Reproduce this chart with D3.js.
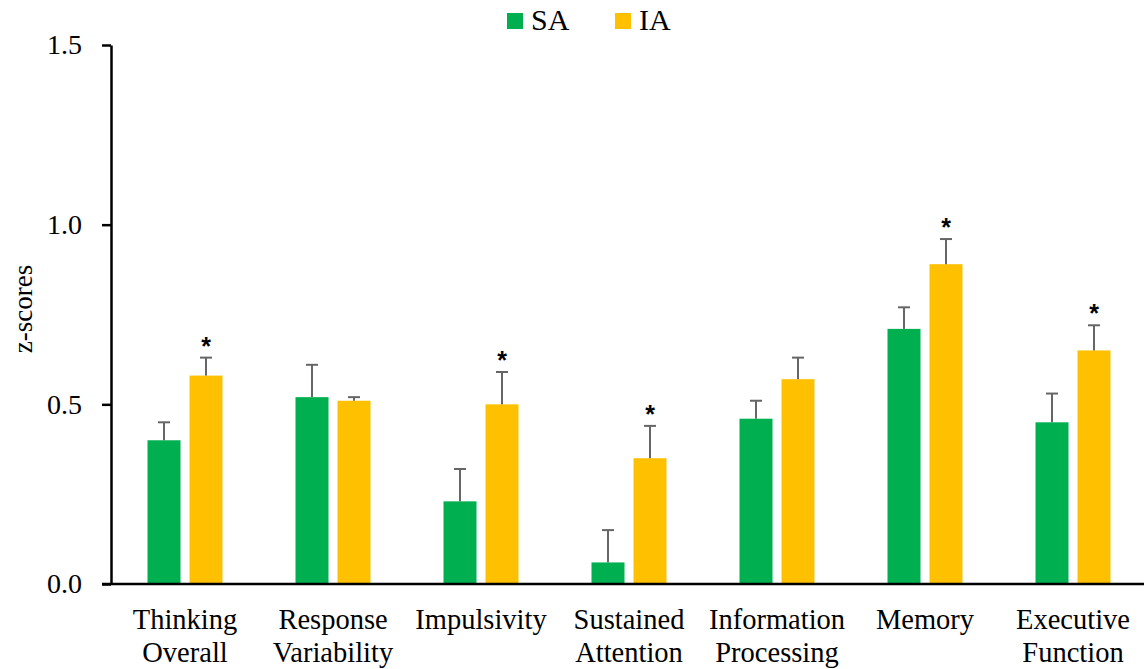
<!DOCTYPE html>
<html>
<head>
<meta charset="utf-8">
<script src="https://cdn.jsdelivr.net/npm/d3@7"></script>
<style>
  body { margin: 0; background: #fff; }
  text { font-family: "Liberation Serif", "Times New Roman", serif; fill: #000; }
</style>
</head>
<body>
<div id="chart"></div>
<script>
// data
var categories = [
  ["Thinking", "Overall"],
  ["Response", "Variability"],
  ["Impulsivity"],
  ["Sustained", "Attention"],
  ["Information", "Processing"],
  ["Memory"],
  ["Executive", "Function"]
];
var series = ["SA", "IA"];
var saValues = [0.40, 0.52, 0.23, 0.06, 0.46, 0.71, 0.45];
var saErrors = [0.05, 0.09, 0.09, 0.09, 0.05, 0.06, 0.08];
var iaValues = [0.58, 0.51, 0.50, 0.35, 0.57, 0.89, 0.65];
var iaErrors = [0.05, 0.01, 0.09, 0.09, 0.06, 0.07, 0.07];
var significant = [true, false, true, true, false, true, true];
var yTicks = [0, 0.5, 1.0, 1.5];

var colors = { SA: "#00B050", IA: "#FFC000" };

var W = 1144, H = 669;
var margin = { top: 45, right: -3, bottom: 85, left: 111 };
var width = W - margin.left - margin.right,
  height = H - margin.top - margin.bottom;

var svg = d3.select("#chart")
  .append("svg")
  .attr("width", W)
  .attr("height", H);

var g = svg.append("g")
  .attr("transform", "translate(" + margin.left + "," + margin.top + ")");

var x0 = d3.scaleBand()
  .domain(d3.range(categories.length))
  .range([0, width])
  .padding(0);

var x1 = d3.scaleBand()
  .domain(series)
  .range([0, x0.bandwidth()])
  .paddingInner(0.2143)
  .paddingOuter(0.869);

var y = d3.scaleLinear().domain([0, 1.5]).range([height, 0]);

var rows = categories.map(function (c, i) {
  return {
    i: i,
    bars: [
      { key: "SA", v: saValues[i], e: saErrors[i] },
      { key: "IA", v: iaValues[i], e: iaErrors[i] }
    ]
  };
});

// bars
var groups = g.selectAll(".grp")
  .data(rows)
  .enter()
  .append("g")
  .attr("transform", function (d) { return "translate(" + x0(d.i) + ",0)"; });

groups.selectAll("rect")
  .data(function (d) { return d.bars; })
  .enter()
  .append("rect")
  .attr("x", function (d) { return x1(d.key); })
  .attr("y", function (d) { return y(d.v); })
  .attr("width", x1.bandwidth())
  .attr("height", function (d) { return height - y(d.v); })
  .attr("fill", function (d) { return colors[d.key]; });

// error bars (upper only)
var eb = groups.selectAll(".err")
  .data(function (d) { return d.bars; })
  .enter()
  .append("g")
  .attr("stroke", "#666")
  .attr("stroke-width", 2);
eb.append("line")
  .attr("x1", function (d) { return x1(d.key) + x1.bandwidth() / 2; })
  .attr("x2", function (d) { return x1(d.key) + x1.bandwidth() / 2; })
  .attr("y1", function (d) { return y(d.v); })
  .attr("y2", function (d) { return y(d.v + d.e); });
eb.append("line")
  .attr("x1", function (d) { return x1(d.key) + x1.bandwidth() / 2 - 6; })
  .attr("x2", function (d) { return x1(d.key) + x1.bandwidth() / 2 + 6; })
  .attr("y1", function (d) { return y(d.v + d.e); })
  .attr("y2", function (d) { return y(d.v + d.e); });

// significance stars
groups.filter(function (d) { return significant[d.i]; })
  .append("text")
  .attr("x", x1("IA") + x1.bandwidth() / 2)
  .attr("y", function (d) { return y(d.bars[1].v + d.bars[1].e) - 3; })
  .attr("text-anchor", "middle")
  .style("font-family", "'Liberation Sans', Arial, sans-serif")
  .style("font-weight", "bold")
  .style("font-size", "25px")
  .text("*");

// y axis
var yAxis = g.append("g")
  .call(d3.axisLeft(y).tickValues(yTicks).tickFormat(d3.format(".1f")).tickSize(9).tickPadding(20).tickSizeOuter(0));
yAxis.select(".domain").attr("stroke-width", 2.5);
yAxis.selectAll(".tick line").attr("stroke-width", 2.5);
yAxis.selectAll("text")
  .style("font-size", "28px")
  .style("font-family", "'Liberation Serif', serif");

// x axis line
g.append("line")
  .attr("x1", -9)
  .attr("x2", width)
  .attr("y1", height)
  .attr("y2", height)
  .attr("stroke", "#000")
  .attr("stroke-width", 2.5);

// x labels
var xl = g.selectAll(".xlab")
  .data(rows)
  .enter()
  .append("text")
  .attr("text-anchor", "middle")
  .attr("x", function (d) { return x0(d.i) + x0.bandwidth() / 2; })
  .attr("y", height + 45)
  .style("font-size", "28.5px");
xl.selectAll("tspan")
  .data(function (d) { return categories[d.i]; })
  .enter()
  .append("tspan")
  .attr("x", function () { return d3.select(this.parentNode).attr("x"); })
  .attr("dy", function (d, j) { return j === 0 ? 0 : 33; })
  .text(function (d) { return d; });

// y label
svg.append("text")
  .attr("transform", "translate(32,309) rotate(-90)")
  .attr("text-anchor", "middle")
  .style("font-size", "27px")
  .text("z-scores");

// legend
var legend = svg.append("g");
var legendX = [507, 615];
series.forEach(function (s, i) {
  legend.append("rect")
    .attr("x", legendX[i])
    .attr("y", 13)
    .attr("width", 16)
    .attr("height", 16)
    .attr("fill", colors[s]);
  legend.append("text")
    .attr("x", legendX[i] + 24)
    .attr("y", 30)
    .style("font-size", "30px")
    .text(s);
});
</script>
</body>
</html>
